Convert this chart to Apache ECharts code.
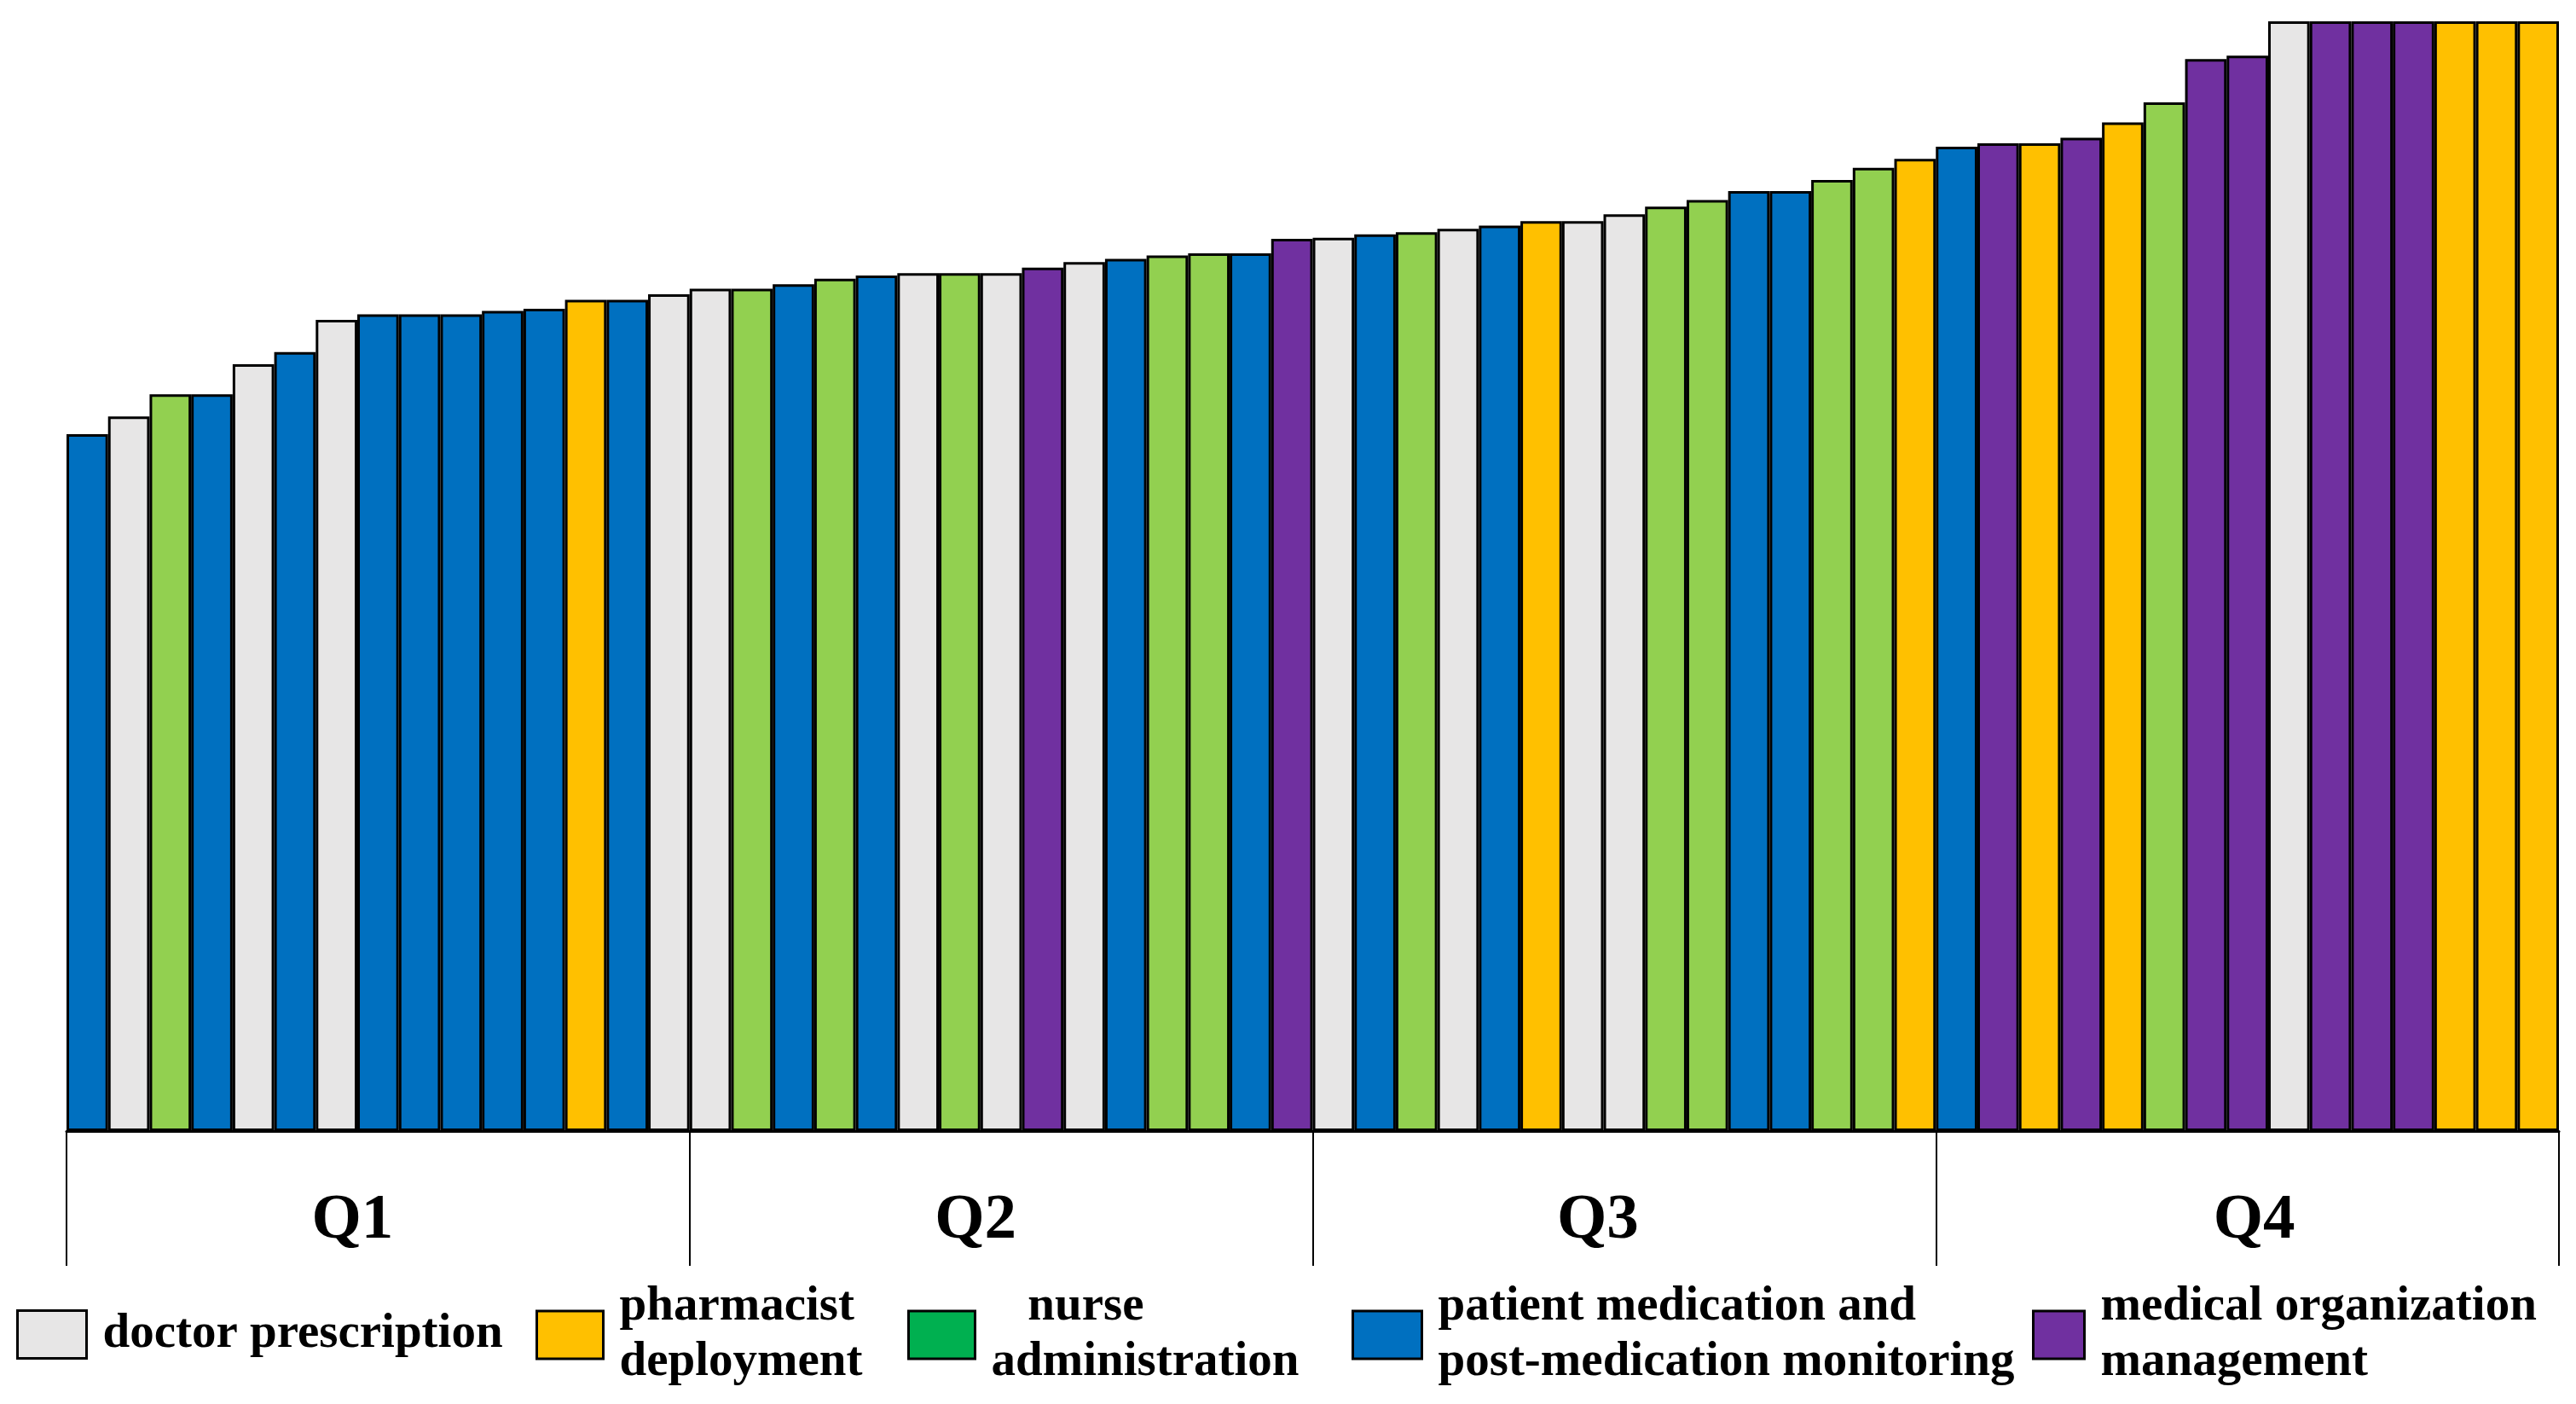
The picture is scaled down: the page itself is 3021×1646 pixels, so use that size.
<!DOCTYPE html>
<html>
<head>
<meta charset="utf-8">
<script src="https://cdn.jsdelivr.net/npm/echarts@6/dist/echarts.min.js"></script>
<style>
  html, body { margin: 0; padding: 0; background: #fff; }
  #chart { width: 3021px; height: 1646px; }
</style>
</head>
<body>
<div id="chart"></div>
<script>
// bar heights, sorted low to high (relative scale, tallest = 100)
var values = [
    62.8, 64.4, 66.4, 66.4, 69.1, 70.2, 73.1, 73.6, 73.6, 73.6, 73.9, 74.1, 74.9, 74.9, 75.4,
    75.9, 75.9, 76.3, 76.8, 77.1, 77.3, 77.3, 77.3, 77.8, 78.3, 78.6, 78.9, 79.1, 79.1, 80.4,
    80.5, 80.8, 81.0, 81.3, 81.6, 82.0, 82.0, 82.6, 83.3, 83.9, 84.7, 84.7, 85.7, 86.8, 87.6,
    88.7, 89.0, 89.0, 89.5, 90.9, 92.7, 96.6, 96.9, 100, 100, 100, 100, 100, 100, 100
];
// D doctor, P pharmacist, N nurse, M patient monitoring, O organization
var groups = [
    'M','D','N','M','D','M','D','M','M','M','M','M','P','M','D',
    'D','N','M','N','M','D','N','D','O','D','M','N','N','M','O',
    'D','M','N','D','M','P','D','D','N','N','M','M','N','N','P',
    'M','O','P','O','P','N','O','O','D','O','O','O','P','P','P'
];
var quarters = ['Q1', 'Q2', 'Q3', 'Q4'];
var groupKeys = ['D', 'P', 'N', 'M', 'O'];
var groupNames = [
    'doctor prescription',
    'pharmacist deployment',
    'nurse administration',
    'patient medication and post-medication monitoring',
    'medical organization management'
];
var legendLabels = [
    'doctor prescription',
    'pharmacist\ndeployment',
    '   nurse\nadministration',
    'patient medication and\npost-medication monitoring',
    'medical organization\nmanagement'
];
var groupColors = ['#E7E6E6', '#FFC000', '#92D050', '#0070C0', '#7030A0'];

var chart = echarts.init(document.getElementById('chart'));
var font = 'Liberation Serif, Times New Roman, serif';

var series = groupKeys.map(function (k, i) {
    return {
        name: groupNames[i],
        type: 'bar',
        barGap: '-100%',
        barCategoryGap: 0,
        itemStyle: { color: groupColors[i], borderColor: '#000', borderWidth: 3 },
        data: values.map(function (v, j) { return groups[j] === k ? v : '-'; })
    };
});

// legend slots: left, top, icon width
var legendPos = [
    [19, 1532, 81],
    [628, 1500, 78],
    [1064, 1500, 78],
    [1585, 1500, 81],
    [2383, 1500, 60]
];

var legends = groupNames.map(function (n, i) {
    var item = { name: n };
    if (i === 2) item.itemStyle = { color: '#00B050' };
    return {
        data: [item],
        left: legendPos[i][0],
        top: legendPos[i][1],
        padding: 0,
        icon: 'rect',
        itemWidth: legendPos[i][2],
        itemHeight: 56,
        selectedMode: false,
        itemStyle: { borderColor: '#000', borderWidth: 3 },
        formatter: function () { return legendLabels[i]; },
        textStyle: {
            fontFamily: font,
            fontSize: 57,
            fontWeight: 'bold',
            color: '#000',
            lineHeight: 65,
            padding: [0, 0, 0, 14]
        }
    };
});

var qPad = [[0, 60, 0, 0], [0, 60, 0, 0], [0, 62, 0, 0], [0, 0, 0, 16]];
var rich = {};
quarters.forEach(function (q, i) {
    rich['s' + i] = {
        fontFamily: font, fontSize: 75, fontWeight: 'bold', color: '#000',
        lineHeight: 75, padding: qPad[i]
    };
});

var option = {
    animation: false,
    backgroundColor: '#fff',
    grid: { left: 78, right: 20, top: 25, bottom: 320 },
    legend: legends,
    xAxis: [
        {
            type: 'category',
            position: 'top',
            show: false,
            data: values.map(function (v, i) { return String(i + 1); })
        },
        {
            type: 'category',
            position: 'bottom',
            data: quarters,
            axisLine: { show: true, lineStyle: { color: '#000', width: 3 } },
            axisTick: { show: true, length: 158, lineStyle: { color: '#000', width: 2 } },
            axisLabel: {
                margin: 68,
                formatter: function (v, i) { return '{s' + i + '|' + v + '}'; },
                rich: rich
            },
            splitLine: { show: false }
        }
    ],
    yAxis: {
        type: 'value',
        min: 0,
        max: 100,
        show: false
    },
    series: series
};

chart.setOption(option);
</script>
</body>
</html>
